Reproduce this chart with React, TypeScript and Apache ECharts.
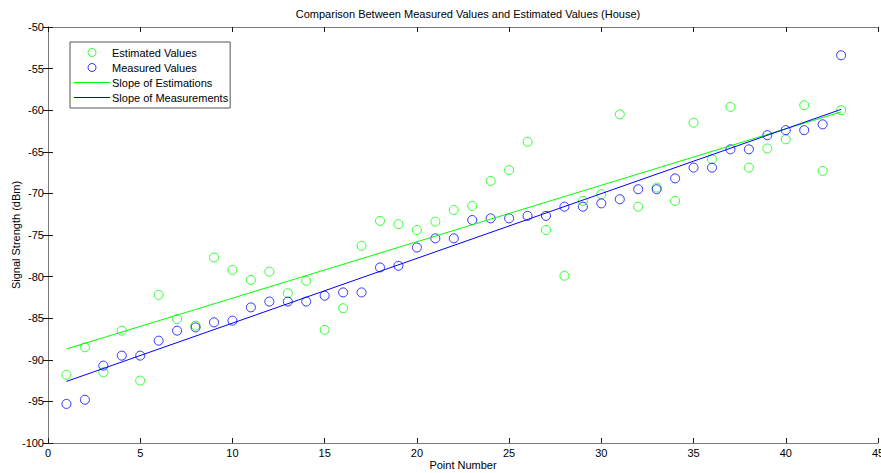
import React, { useEffect, useRef } from "react";
import * as echarts from "echarts";

const pointNumbers = [
  1, 2, 3, 4, 5, 6, 7, 8, 9, 10, 11, 12, 13, 14, 15, 16, 17, 18, 19, 20, 21, 22,
  23, 24, 25, 26, 27, 28, 29, 30, 31, 32, 33, 34, 35, 36, 37, 38, 39, 40, 41, 42, 43,
];

const estimatedValues = [
  -91.8, -88.5, -91.5, -86.5, -92.5, -82.2, -85.1, -85.9, -77.7, -79.2, -80.4,
  -79.4, -82.0, -80.5, -86.4, -83.8, -76.3, -73.3, -73.7, -74.4, -73.4, -72.0,
  -71.5, -68.5, -67.2, -63.8, -74.4, -79.9, -70.9, -70.1, -60.5, -71.6, -69.3,
  -70.9, -61.5, -65.9, -59.6, -66.9, -64.6, -63.5, -59.4, -67.3, -60.0,
];

const measuredValues = [
  -95.3, -94.8, -90.7, -89.5, -89.5, -87.7, -86.5, -86.1, -85.5, -85.3, -83.7,
  -83.0, -83.0, -83.0, -82.3, -81.9, -81.9, -78.9, -78.7, -76.5, -75.4, -75.4,
  -73.2, -73.0, -73.0, -72.7, -72.7, -71.6, -71.6, -71.2, -70.7, -69.5, -69.5,
  -68.2, -66.9, -66.9, -64.7, -64.7, -63.0, -62.4, -62.4, -61.7, -53.4,
];

// Fitted trend lines, given by their end points
const fitX = [1, 43];
const estimationFit = [-88.7, -60.2];
const measurementFit = [-92.6, -59.9];

const xTicks = [0, 45, 5];
const yTicks = [-100, -50, 5];

const FONT = "'Liberation Sans', Arial, sans-serif";
const BOX_COLOR = "#7a7a7a";
const TICK_COLOR = "#1a1a1a";
const GREEN = "#00ff00";
const BLUE = "#0000ff";
const LINE_ICON = "path://M0,0H36V1H0Z";

export default function App() {
  const ref = useRef<HTMLDivElement>(null);

  useEffect(() => {
    if (!ref.current) return;
    const chart = echarts.init(ref.current, undefined, { renderer: "svg" });

    const pair = (xs: number[], ys: number[]) => xs.map((x, i) => [x, ys[i]]);

    const axisCommon = {
      type: "value" as const,
      axisLine: { show: true, lineStyle: { color: BOX_COLOR, width: 1 } },
      axisTick: { show: true, inside: true, length: 5, lineStyle: { color: TICK_COLOR } },
      splitLine: { show: false },
    };

    const ring = (color: string) => ({
      color: "rgba(0,0,0,0)",
      borderColor: color,
      borderWidth: 1,
    });

    chart.setOption({
      animation: false,
      backgroundColor: "#ffffff",
      textStyle: { fontFamily: FONT },
      title: {
        text: "Comparison Between Measured Values and Estimated Values (House)",
        left: 463,
        textAlign: "center",
        top: 3,
        textStyle: { fontSize: 11, fontWeight: "normal", color: "#000", fontFamily: FONT },
      },
      grid: {
        left: 48,
        right: 3,
        top: 27,
        bottom: 30,
        containLabel: false,
        outerBoundsMode: "none",
      },
      legend: {
        left: 70,
        top: 42,
        orient: "vertical",
        backgroundColor: "#fff",
        borderColor: "#555",
        borderWidth: 1,
        borderRadius: 0,
        padding: [4, 2, 4, 4],
        itemGap: 2,
        itemWidth: 36,
        itemHeight: 8,
        textStyle: { fontSize: 11, color: "#000", fontFamily: FONT, lineHeight: 13, padding: [0, 0, 0, -3] },
        data: [
          { name: "Estimated Values", icon: "circle", itemStyle: ring(GREEN) },
          { name: "Measured Values", icon: "circle", itemStyle: ring(BLUE) },
          { name: "Slope of Estimations", icon: LINE_ICON, itemStyle: { color: GREEN } },
          { name: "Slope of Measurements", icon: LINE_ICON, itemStyle: { color: BLUE } },
        ],
      },
      xAxis: [
        {
          ...axisCommon,
          position: "bottom",
          min: xTicks[0],
          max: xTicks[1],
          interval: xTicks[2],
          name: "Point Number",
          nameLocation: "middle",
          nameGap: 16,
          nameMoveOverlap: false,
          nameTextStyle: { fontSize: 11, color: "#000", fontFamily: FONT },
          axisLabel: { fontSize: 11, color: "#000", margin: 4, fontFamily: FONT },
        },
        {
          ...axisCommon,
          position: "top",
          min: xTicks[0],
          max: xTicks[1],
          interval: xTicks[2],
          axisLabel: { show: false },
        },
      ],
      yAxis: [
        {
          ...axisCommon,
          position: "left",
          min: yTicks[0],
          max: yTicks[1],
          interval: yTicks[2],
          name: "Signal Strength (dBm)",
          nameLocation: "middle",
          nameGap: 27,
          nameMoveOverlap: false,
          nameTextStyle: { fontSize: 11, color: "#000", fontFamily: FONT },
          axisLabel: { fontSize: 11, color: "#000", margin: 4, fontFamily: FONT },
        },
        {
          ...axisCommon,
          position: "right",
          min: yTicks[0],
          max: yTicks[1],
          interval: yTicks[2],
          axisLabel: { show: false },
        },
      ],
      series: [
        {
          name: "Estimated Values",
          type: "scatter",
          symbol: "circle",
          symbolSize: 9,
          itemStyle: ring(GREEN),
          data: pair(pointNumbers, estimatedValues),
        },
        {
          name: "Measured Values",
          type: "scatter",
          symbol: "circle",
          symbolSize: 9,
          itemStyle: ring(BLUE),
          data: pair(pointNumbers, measuredValues),
        },
        {
          name: "Slope of Estimations",
          type: "line",
          symbol: "none",
          lineStyle: { color: GREEN, width: 1 },
          itemStyle: { color: GREEN },
          data: pair(fitX, estimationFit),
        },
        {
          name: "Slope of Measurements",
          type: "line",
          symbol: "none",
          lineStyle: { color: BLUE, width: 1 },
          itemStyle: { color: BLUE },
          data: pair(fitX, measurementFit),
        },
      ],
    });

    return () => chart.dispose();
  }, []);

  return (
    <div
      ref={ref}
      style={{ position: "fixed", left: 0, top: 0, width: 881, height: 473 }}
    />
  );
}
